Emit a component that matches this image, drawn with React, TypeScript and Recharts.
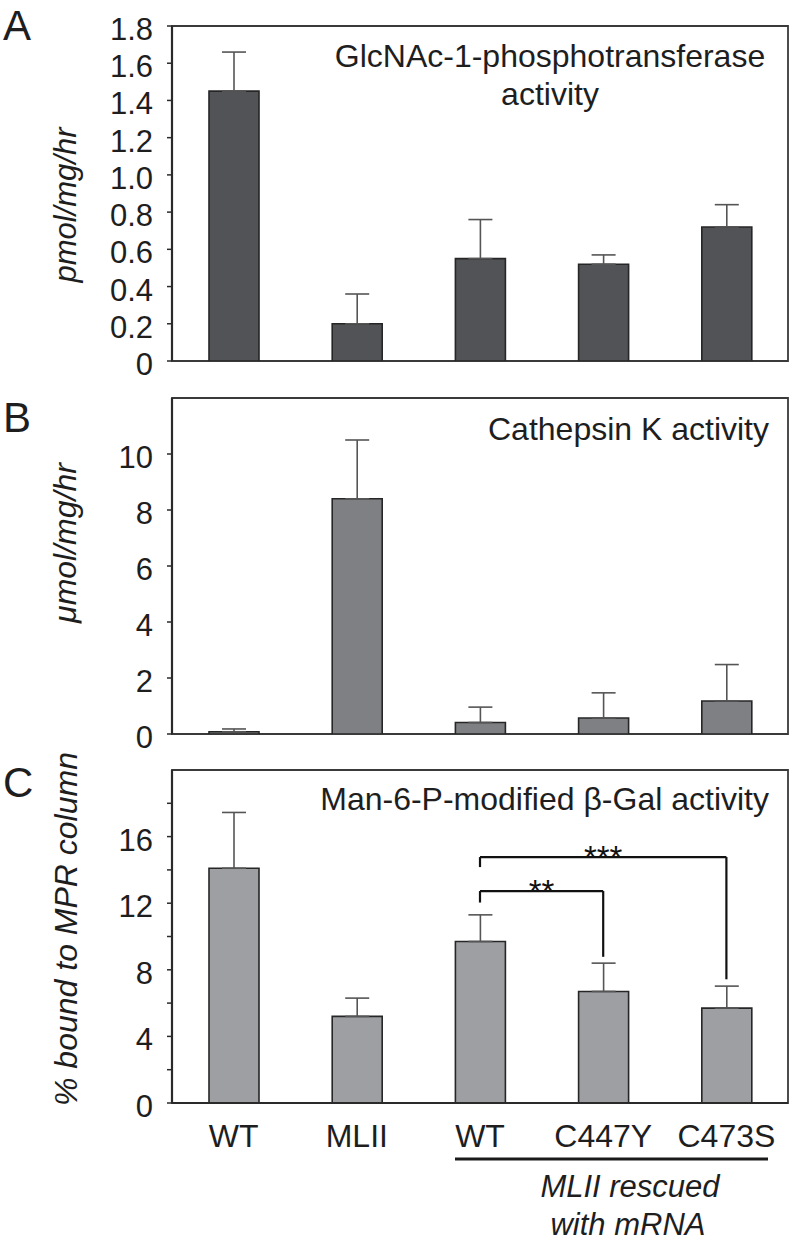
import React from 'react';
import { BarChart, Bar, XAxis, YAxis, ErrorBar, ReferenceLine, ReferenceArea } from 'recharts';

const categories = ['WT', 'MLII', 'WT_r', 'C447Y', 'C473S'];
const tickLabels = ['WT', 'MLII', 'WT', 'C447Y', 'C473S'];

const phosphoMean = [1.45, 0.2, 0.55, 0.52, 0.72];
const phosphoErr = [0.21, 0.16, 0.21, 0.05, 0.12];

const cathepsinMean = [0.08, 8.4, 0.41, 0.57, 1.18];
const cathepsinErr = [0.1, 2.1, 0.55, 0.9, 1.3];

const galMean = [14.1, 5.2, 9.7, 6.7, 5.7];
const galErr = [3.35, 1.1, 1.6, 1.7, 1.32];

const ticksA = [0, 0.2, 0.4, 0.6, 0.8, 1.0, 1.2, 1.4, 1.6, 1.8];
const ticksB = [0, 2, 4, 6, 8, 10];
const ticksC = [0, 2, 4, 6, 8, 10, 12, 14, 16, 18];

const sigLabels = ['**', '***'];
const sigFrom = ['WT_r', 'WT_r'];
const sigTo = ['C447Y', 'C473S'];
const sigY = [12.73, 14.77];
const sigLeftEnd = [12.04, 14.17];
const sigRightEnd = [8.78, 7.43];

const FONT = '"Liberation Sans", Arial, Helvetica, sans-serif';
const TXT = '#1e1e1e';

const build = (mean: number[], err: number[]) =>
  categories.map((c, i) => ({ cat: c, v: mean[i], e: [0, err[i]] }));

const dataA = build(phosphoMean, phosphoErr);
const dataB = build(cathepsinMean, cathepsinErr);
const dataC = build(galMean, galErr);

const tickStyle = { fontSize: 31, fill: TXT, fontFamily: FONT, dy: 3 };

const Panel = ({
  data,
  fill,
  domain,
  ticks,
  fmt,
  height,
  margin,
  showX,
  children,
}: any) => (
  <BarChart width={800} height={height} data={data} margin={margin}>
    <ReferenceArea
      y1={domain[0]}
      y2={domain[1]}
      fill="none"
      stroke="#3a3a3a"
      strokeWidth={1.8}
      ifOverflow="visible"
    />
    <XAxis
      dataKey="cat"
      tick={showX ? { fontSize: 32, fill: TXT, fontFamily: FONT } : false}
      tickLine={false}
      tickSize={0}
      tickMargin={21}
      height={showX ? 40 : 0}
      interval={0}
      tickFormatter={(v: string) => tickLabels[categories.indexOf(v)]}
      axisLine={{ stroke: '#2a2a2a', strokeWidth: 2.2 }}
    />
    <YAxis
      width={172}
      domain={domain}
      ticks={ticks}
      interval={0}
      allowDataOverflow
      tick={tickStyle}
      tickFormatter={fmt}
      tickSize={5}
      tickMargin={14}
      tickLine={{ stroke: '#2a2a2a', strokeWidth: 1.5 }}
      axisLine={{ stroke: '#2a2a2a', strokeWidth: 2.2 }}
    />
    <Bar dataKey="v" fill={fill} stroke="#262626" strokeWidth={1.6} barSize={50} isAnimationActive={false}>
      <ErrorBar dataKey="e" width={12} stroke="#555" strokeWidth={1.6} direction="y" />
    </Bar>
    {children}
  </BarChart>
);

export default function App() {
  const sig: React.ReactNode[] = [];
  sigLabels.forEach((lab, i) => {
    const common = { stroke: '#111', strokeWidth: 2.2 } as any;
    sig.push(
      <ReferenceLine
        key={'h' + i}
        segment={[{ x: sigFrom[i], y: sigY[i] }, { x: sigTo[i], y: sigY[i] }]}
        {...common}
        label={{ value: lab, position: 'center', fontSize: 33, fill: '#111', fontFamily: FONT }}
      />
    );
    sig.push(
      <ReferenceLine
        key={'l' + i}
        segment={[{ x: sigFrom[i], y: sigY[i] }, { x: sigFrom[i], y: sigLeftEnd[i] }]}
        {...common}
      />
    );
    sig.push(
      <ReferenceLine
        key={'r' + i}
        segment={[{ x: sigTo[i], y: sigY[i] }, { x: sigTo[i], y: sigRightEnd[i] }]}
        {...common}
      />
    );
  });

  return (
    <div
      style={{
        position: 'absolute',
        left: 0,
        top: 0,
        width: 800,
        height: 1247,
        background: '#fff',
        fontFamily: FONT,
        overflow: 'hidden',
      }}
    >
      <div style={{ position: 'absolute', left: 0, top: 0 }}>
        <Panel
          data={dataA}
          fill="#525356"
          domain={[0, 1.8]}
          ticks={ticksA}
          fmt={(v: number) => (v === 0 ? '0' : v.toFixed(1))}
          height={385}
          margin={{ top: 26, right: 12, bottom: 24, left: 0 }}
          showX={false}
        />
      </div>
      <div style={{ position: 'absolute', left: 0, top: 380 }}>
        <Panel
          data={dataB}
          fill="#7f8083"
          domain={[0, 12]}
          ticks={ticksB}
          fmt={(v: number) => String(v)}
          height={385}
          margin={{ top: 18, right: 12, bottom: 31, left: 0 }}
          showX={false}
        />
      </div>
      <div style={{ position: 'absolute', left: 0, top: 750 }}>
        <Panel
          data={dataC}
          fill="#9e9fa2"
          domain={[0, 20]}
          ticks={ticksC}
          fmt={(v: number) => (v % 4 === 0 ? String(v) : '')}
          height={497}
          margin={{ top: 20, right: 12, bottom: 104, left: 0 }}
          showX={true}
        >
          {sig}
        </Panel>
      </div>
      <svg
        width={800}
        height={1247}
        style={{ position: 'absolute', left: 0, top: 0, pointerEvents: 'none' }}
        fontFamily={FONT}
      >
        <text x={3} y={40} fontSize={42} fill={TXT}>A</text>
        <text x={3} y={432} fontSize={42} fill={TXT}>B</text>
        <text x={3} y={797} fontSize={42} fill={TXT}>C</text>

        <text x={550} y={67} fontSize={32} fill={TXT} textAnchor="middle">GlcNAc-1-phosphotransferase</text>
        <text x={550} y={105} fontSize={32} fill={TXT} textAnchor="middle">activity</text>
        <text x={769} y={440} fontSize={32} fill={TXT} textAnchor="end">Cathepsin K activity</text>
        <text x={769} y={810} fontSize={32} fill={TXT} textAnchor="end">Man-6-P-modified β-Gal activity</text>

        <text transform="translate(76,205) rotate(-90)" fontSize={31} fill={TXT} fontStyle="italic" textAnchor="middle">pmol/mg/hr</text>
        <text transform="translate(76,543) rotate(-90)" fontSize={32} fill={TXT} fontStyle="italic" textAnchor="middle">μmol/mg/hr</text>
        <text transform="translate(77,929) rotate(-90)" fontSize={32} fill={TXT} fontStyle="italic" textAnchor="middle">% bound to MPR column</text>

        <line x1={455} x2={768} y1={1159} y2={1159} stroke="#1a1a1a" strokeWidth={3} />
        <text x={630} y={1197} fontSize={31} fill={TXT} fontStyle="italic" textAnchor="middle">MLII rescued</text>
        <text x={628} y={1235} fontSize={31} fill={TXT} fontStyle="italic" textAnchor="middle">with mRNA</text>
      </svg>
    </div>
  );
}
